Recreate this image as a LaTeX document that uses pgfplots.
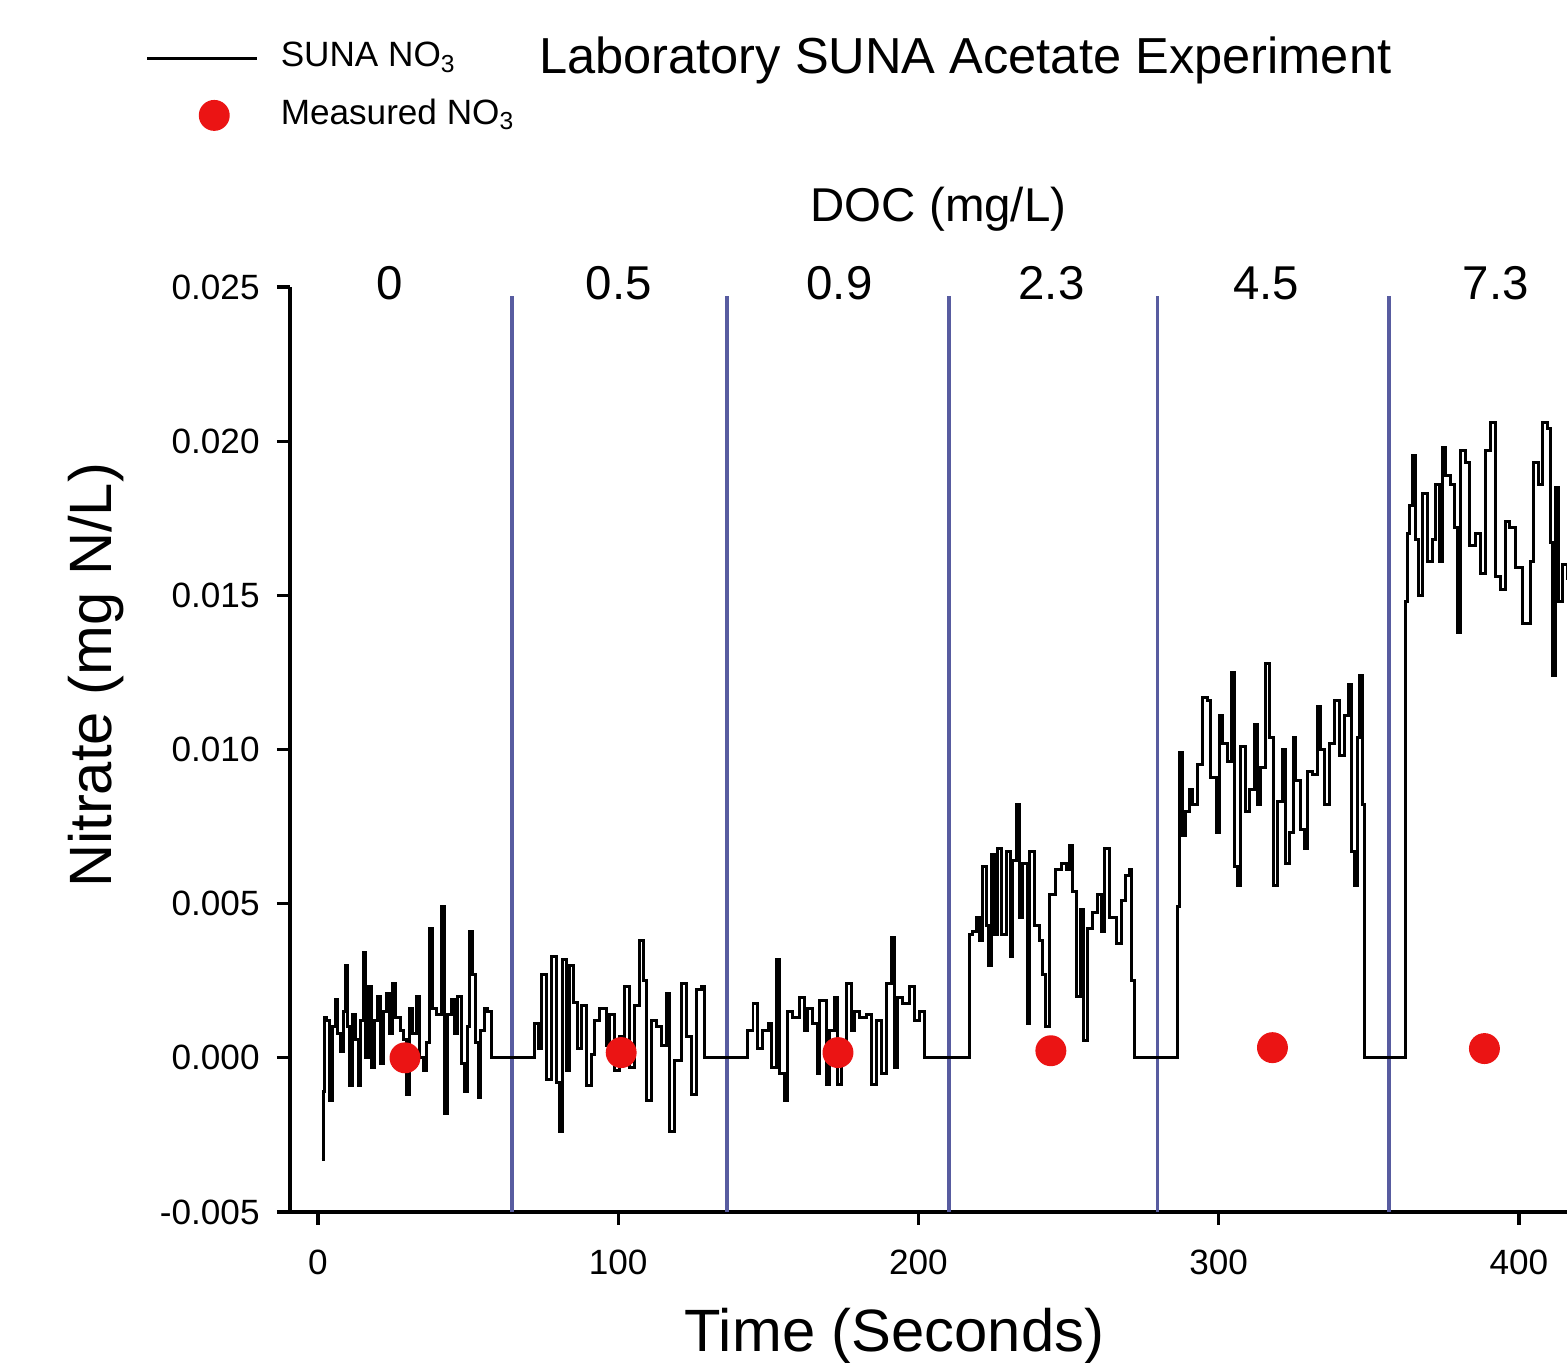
\documentclass[border=0pt]{standalone}
\usepackage{fontspec}
\setmainfont{Liberation Sans}
\usepackage{pgfplots}
\pgfplotsset{compat=1.18}
\definecolor{doclines}{RGB}{88,92,160}
\definecolor{dotred}{RGB}{235,20,20}
\pgfplotsset{
  linelegend/.style={legend image code/.code={\draw[##1] (0mm,0mm) -- (11mm,0mm);}},
  dotlegend/.style={legend image code/.code={\draw[##1] plot coordinates {(6.7mm,0mm)};}},
}

\begin{document}
\begin{tikzpicture}
\useasboundingbox (-29mm,-15.1mm) rectangle (127.7mm,121.2mm);
\begin{axis}[
  at={(0,0)}, anchor=south west,
  scale only axis, width=127.7mm, height=92.5mm,
  xmin=-9.3, xmax=416, ymin=-0.005, ymax=0.025,
  axis lines=left, axis line style={-, line width=0.9pt},
  clip=false,
  tick align=outside, major tick length=1.3mm,
  tick style={line width=0.9pt, black},
  xtick={0,100,200,300,400},
  ytick={-0.005,0,0.005,0.01,0.015,0.02,0.025},
  scaled y ticks=false,
  yticklabel style={/pgf/number format/fixed, /pgf/number format/fixed zerofill, /pgf/number format/precision=3, xshift=-0.5mm},
  xticklabel style={yshift=-1.3mm},
  /pgf/number format/assume math mode=true,
  ticklabel style={font=\fontsize{10}{12}\selectfont},
  legend style={at={(-0.1135,1.2747)}, anchor=north west, draw=none, fill=none,
    inner sep=0pt, column sep=1.5mm, row sep=0.8mm,
    font=\fontsize{10}{12}\selectfont,
    nodes={inner sep=2pt, text height=7.5pt, text depth=2.5pt}},
  legend cell align=left,
]
% DOC change lines
\addplot[doclines, line width=1.1pt, forget plot] coordinates {(64.6,-0.005) (64.6,0.0247)};
\addplot[doclines, line width=1.1pt, forget plot] coordinates {(136.1,-0.005) (136.1,0.0247)};
\addplot[doclines, line width=1.1pt, forget plot] coordinates {(210.3,-0.005) (210.3,0.0247)};
\addplot[doclines, line width=1.1pt, forget plot] coordinates {(279.6,-0.005) (279.6,0.0247)};
\addplot[doclines, line width=1.1pt, forget plot] coordinates {(356.6,-0.005) (356.6,0.0247)};

% SUNA NO3
\addplot[black, line width=0.85pt, const plot, linelegend] coordinates {
(1.2,-0.0033) (1.8,-0.0011) (2.3,0.0013) (3.0,0.0012) (4.0,-0.0014) (5.0,0.0010)
(5.7,0.0019) (6.5,0.0008) (7.5,0.0002) (8.5,0.0015) (9.2,0.0030) (10.0,0.0010)
(10.6,-0.0009) (11.5,0.0014) (12.4,0.0006) (13.4,-0.0009) (14.3,0.0012) (15.1,0.0034)
(16.0,0.0000) (17.0,0.0023) (18.0,-0.0003) (19.0,0.0012) (20.0,0.0020) (21.0,-0.0002)
(22.0,0.0015) (23.0,0.0021) (24.0,0.0008) (25.0,0.0024) (26.0,0.0013) (27.5,0.0009)
(28.5,0.0006) (29.5,-0.0012) (30.5,0.0016) (31.5,0.0008) (32.7,0.0020) (33.8,0.0000)
(35.0,-0.0004) (36.0,0.0005) (37.3,0.0042) (38.3,0.0016) (39.5,0.0014) (41.1,0.0049)
(42.3,-0.0018) (43.2,0.0014) (44.4,0.0019) (45.5,0.0008) (46.5,0.0020) (47.8,-0.0002)
(48.8,-0.0011) (49.7,0.0010) (50.6,0.0041) (51.6,0.0027) (52.5,0.0005) (53.4,-0.0013)
(54.3,0.0009) (55.4,0.0016) (56.5,0.0015) (57.5,0.0015) (57.8,0.0000)
(71.9,0.0000)
(72.2,0.0011) (73.3,0.0003) (74.4,0.0027) (76.1,-0.0007) (77.8,0.0033) (79.4,-0.0008)
(80.5,-0.0024) (81.6,0.0032) (82.8,-0.0004) (83.9,0.0030) (85.0,0.0018) (86.6,0.0003)
(87.7,0.0017) (89.4,-0.0009) (91.1,0.0001) (92.2,0.0012) (93.8,0.0016) (96.1,0.0004)
(97.2,0.0014) (98.8,-0.0004) (100.5,0.0007) (102.2,0.0023) (103.8,-0.0003) (105.5,0.0017)
(107.2,0.0038) (108.3,0.0025) (109.4,-0.0014) (111.0,0.0012) (112.7,0.0010) (114.4,0.0004)
(116.0,0.0021) (117.1,-0.0024) (118.8,-0.0001) (121.0,0.0024) (122.7,0.0007) (124.4,-0.0012)
(126.0,0.0022) (127.7,0.0023) (128.6,0.0023) (128.8,0.0000)
(142.9,0.0000)
(143.2,0.0009) (144.9,0.00175) (146.5,0.0003) (148.2,0.0009) (149.9,0.0011) (151.0,-0.0003)
(152.6,0.0032) (153.7,-0.0005) (155.4,-0.0014) (156.5,0.0015) (158.2,0.0013) (160.4,0.00195)
(162.1,0.0009) (163.2,0.0016) (164.8,0.0011) (166.5,-0.0005) (167.1,0.00185) (169.3,-0.00085)
(170.4,0.0009) (172.0,0.00195) (173.2,-0.00085) (174.3,0.0003) (175.9,0.0024) (177.6,0.0009)
(178.7,0.0015) (180.4,0.0013) (182.6,0.0014) (184.3,-0.00085) (185.9,0.0012) (187.6,-0.0005)
(189.2,0.0024) (190.9,0.0039) (192.0,-0.0003) (193.1,0.00195) (194.8,0.00175) (197.0,0.0023)
(198.7,0.0012) (200.3,0.0015) (201.8,0.0015) (202.0,0.0000)
(216.8,0.0000)
(217.0,0.0040) (218.1,0.0041) (219.2,0.00455) (220.3,0.0038) (221.4,0.0062) (222.5,0.0043)
(223.4,0.0030) (224.2,0.0066) (225.3,0.0040) (226.4,0.0068) (227.5,0.0040) (229.2,0.0067)
(230.5,0.0033) (231.4,0.0064) (232.5,0.0082) (233.6,0.00455) (234.7,0.0063) (236.4,0.0011)
(236.9,0.0067) (238.6,0.0043) (240.3,0.0038) (241.4,0.0027) (242.3,0.0010) (243.6,0.0053)
(245.8,0.0061) (247.5,0.0063) (249.2,0.0061) (250.2,0.0069) (251.4,0.0054) (252.5,0.0020)
(254.1,0.0048) (255.0,0.00055) (256.3,0.0042) (258.0,0.0047) (259.7,0.0053) (260.8,0.0041)
(262.1,0.0068) (263.6,0.00455) (265.8,0.0037) (267.5,0.0051) (269.1,0.0059) (270.4,0.0061)
(271.1,0.0025) (271.9,0.0000)
(286.0,0.0000)
(286.3,0.0049) (287.1,0.0099) (288.0,0.0072) (289.1,0.0080) (290.2,0.0087) (291.3,0.0082)
(292.9,0.0095) (294.6,0.0117) (296.3,0.0116) (297.4,0.0091) (299.1,0.0073) (300.2,0.0111)
(301.3,0.0102) (302.9,0.0096) (304.1,0.0125) (305.2,0.0062) (306.3,0.0056) (307.4,0.0101)
(309.0,0.0080) (310.1,0.0087) (311.8,0.0108) (312.9,0.0082) (314.0,0.0094) (315.7,0.0128)
(316.8,0.0104) (318.1,0.0056) (319.6,0.0083) (321.2,0.0100) (322.4,0.0063) (323.5,0.0073)
(324.8,0.0104) (325.7,0.0090) (327.4,0.0074) (328.5,0.0068) (329.5,0.0093) (331.2,0.0092)
(332.9,0.0114) (334.0,0.0100) (335.1,0.0082) (336.8,0.0102) (338.4,0.0116) (340.1,0.0098)
(341.8,0.0111) (343.2,0.0121) (344.3,0.0067) (345.1,0.0056) (346.2,0.0104) (347.0,0.0124)
(347.9,0.0082) (348.4,0.0000)
(362.0,0.0000)
(362.3,0.0148) (362.9,0.0170) (363.4,0.0179) (364.5,0.01955) (365.6,0.0168) (366.7,0.0150)
(367.8,0.0183) (369.5,0.0161) (371.2,0.0168) (372.3,0.0186) (373.4,0.0161) (374.5,0.0198)
(375.6,0.0189) (377.3,0.0186) (378.4,0.0172) (379.5,0.0138) (380.6,0.0197) (382.3,0.0193)
(383.4,0.0166) (385.6,0.0170) (387.2,0.0157) (388.9,0.0197) (390.6,0.0206) (392.2,0.0156)
(393.9,0.0152) (395.6,0.0174) (396.7,0.0172) (398.9,0.0159) (401.1,0.0141) (402.2,0.0141)
(403.9,0.0161) (405.0,0.0193) (406.6,0.0186) (407.8,0.0206) (409.4,0.0204) (410.5,0.0167)
(411.1,0.0124) (412.2,0.0185) (413.3,0.0148) (414.4,0.0160) (416.0,0.0155)
};
\addlegendentry{SUNA NO\textsubscript{3}}

% Measured NO3
\addplot[only marks, mark=*, mark size=4.2pt, color=dotred, dotlegend] coordinates {
(29.0,0.0000) (101.0,0.00017) (173.2,0.00017) (244.1,0.00023) (317.9,0.00033) (388.5,0.00030)
};
\addlegendentry{Measured NO\textsubscript{3}}

% Annotations
\node[font=\fontsize{14.4}{17}\selectfont, anchor=base] at (axis cs:215.6,0.03192) {Laboratory SUNA Acetate Experiment};
\node[font=\fontsize{13.5}{16}\selectfont, anchor=base] at (axis cs:206.7,0.02711) {DOC (mg/L)};
\node[font=\fontsize{13.5}{16}\selectfont, anchor=base] at (axis cs:24.0,0.02461) {0};
\node[font=\fontsize{13.5}{16}\selectfont, anchor=base] at (axis cs:100.2,0.02461) {0.5};
\node[font=\fontsize{13.5}{16}\selectfont, anchor=base] at (axis cs:173.7,0.02461) {0.9};
\node[font=\fontsize{13.5}{16}\selectfont, anchor=base] at (axis cs:244.3,0.02461) {2.3};
\node[font=\fontsize{13.5}{16}\selectfont, anchor=base] at (axis cs:315.8,0.02461) {4.5};
\node[font=\fontsize{13.5}{16}\selectfont, anchor=base] at (axis cs:392.3,0.02461) {7.3};
\node[font=\fontsize{17}{20}\selectfont, anchor=base] at (axis cs:192.0,-0.00951) {Time (Seconds)};
\node[font=\fontsize{17}{20}\selectfont, anchor=base, rotate=90] at (axis cs:-68.6,0.0124) {Nitrate (mg N/L)};
\end{axis}
\end{tikzpicture}
\end{document}
